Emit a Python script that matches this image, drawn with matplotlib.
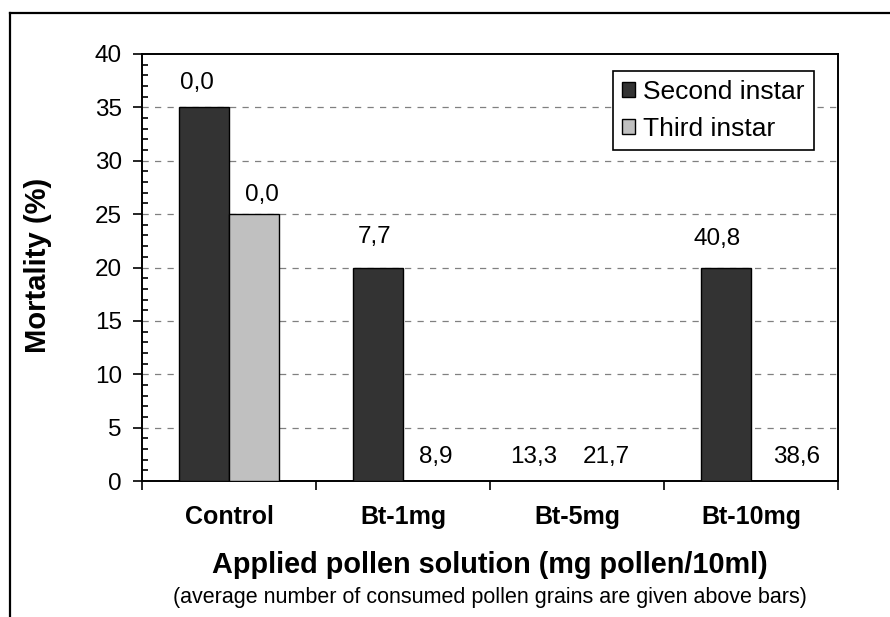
import numpy as np
import matplotlib.pyplot as plt
from matplotlib.lines import Line2D

# data
categories = ["Control", "Bt-1mg", "Bt-5mg", "Bt-10mg"]
second_instar = [35, 20, 0, 20]
third_instar = [25, 0, 0, 0]
second_labels = ["0,0", "7,7", "13,3", "40,8"]
third_labels = ["0,0", "8,9", "21,7", "38,6"]

# label nudges in pixels (Excel places them a bit irregularly)
second_dx = [-7, -3, -18, -9]
second_dy = [18, 24, 18, 23]
third_dx = [8, 8, 4, 21]
third_dy = [13, 18, 18, 18]

W, H = 890, 617
plt.rcParams['font.family'] = ['Liberation Sans', 'DejaVu Sans']

fig = plt.figure(figsize=(W / 100, H / 100), dpi=100)

# outer chart frame (cut off at right and bottom like the reference)
fig.add_artist(Line2D([10 / W, 1.0], [1 - 13 / H, 1 - 13 / H], transform=fig.transFigure, color='black', lw=1.6))
fig.add_artist(Line2D([10 / W, 10 / W], [0.0, 1 - 13 / H], transform=fig.transFigure, color='black', lw=1.6))

# plot area in pixels
left, right, top, bottom = 142, 838, 54, 481
ax = fig.add_axes([left / W, 1 - bottom / H, (right - left) / W, (bottom - top) / H])

x = np.arange(len(categories))
bw = 0.287
b1 = ax.bar(x - bw / 2, second_instar, bw, color='#333333', edgecolor='black', linewidth=1.0,
            label='Second instar', zorder=3)
b2 = ax.bar(x + bw / 2, third_instar, bw, color='#c0c0c0', edgecolor='black', linewidth=1.0,
            label='Third instar', zorder=3)

for bars, texts, dxs, dys in [(b1, second_labels, second_dx, second_dy),
                              (b2, third_labels, third_dx, third_dy)]:
    for rect, txt, dx, dy in zip(bars, texts, dxs, dys):
        ax.annotate(txt, (rect.get_x() + rect.get_width() / 2, rect.get_height()),
                    xytext=(dx, dy), textcoords='offset pixels', ha='center', va='baseline',
                    fontsize=17.5)

ax.set_xlim(-0.5, len(categories) - 0.5)
ax.set_ylim(0, 40)

# y axis
ax.set_yticks(np.arange(0, 41, 5))
ax.set_yticks(np.arange(0, 41, 1), minor=True)
ax.tick_params(axis='y', which='major', direction='out', length=6.5, width=1.2, labelsize=17.5, pad=8)
ax.tick_params(axis='y', which='minor', direction='in', length=4.3, width=1.2)
for yv in range(5, 40, 5):
    ax.axhline(yv, color='#808080', lw=0.9, ls=(0, (5, 5)), zorder=1)

# x axis: ticks at category boundaries, labels at centres
ax.set_xticks(np.arange(-0.5, len(categories), 1.0))
ax.set_xticklabels([])
ax.set_xticks(x, minor=True)
ax.set_xticklabels(categories, minor=True, fontsize=18, fontweight='bold')
ax.tick_params(axis='x', which='major', direction='out', length=6.5, width=1.2)
ax.tick_params(axis='x', which='minor', length=0, pad=17)

for sp in ax.spines.values():
    sp.set_linewidth(1.4)

fig.text(38 / W, 1 - 265 / H, 'Mortality (%)', rotation=90, ha='center', va='center',
         fontsize=21, fontweight='bold')
fig.text(490 / W, 1 - 565 / H, 'Applied pollen solution (mg pollen/10ml)',
         ha='center', va='center', fontsize=20.8, fontweight='bold')
fig.text(490 / W, 1 - 598 / H, '(average number of consumed pollen grains are given above bars)',
         ha='center', va='center', fontsize=15.5)

leg = ax.legend(loc='upper left', bbox_to_anchor=(613 / W, 1 - 71 / H), bbox_transform=fig.transFigure,
                borderaxespad=0, fancybox=False, framealpha=1, edgecolor='black', fontsize=19,
                handlelength=0.5, handleheight=0.5, handletextpad=0.3, labelspacing=0.5,
                borderpad=0.34)
leg.get_frame().set_linewidth(1.2)

fig.savefig('out.png', dpi=100)
